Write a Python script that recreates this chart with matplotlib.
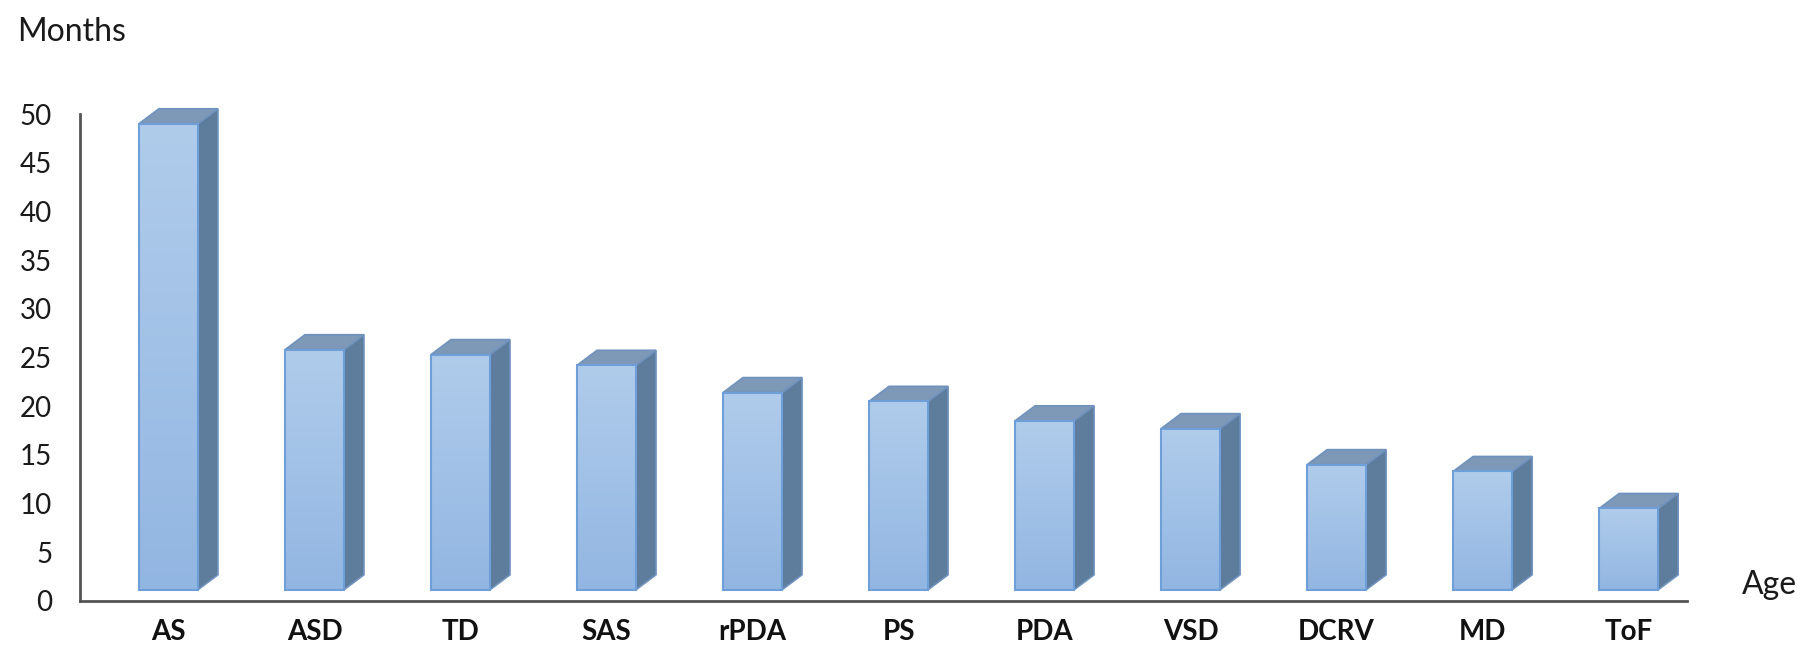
import numpy as np
import matplotlib.pyplot as plt
from matplotlib.patches import Polygon

# 各病种的月龄
categories = ["AS", "ASD", "TD", "SAS", "rPDA", "PS", "PDA", "VSD", "DCRV", "MD", "ToF"]
months = [49.0, 25.8, 25.3, 24.2, 21.4, 20.5, 18.5, 17.7, 14.0, 13.3, 9.5]
yticks = [0, 5, 10, 15, 20, 25, 30, 35, 40, 45, 50]

plt.rcParams['font.family'] = ['Lato', 'DejaVu Sans']

fig = plt.figure(figsize=(18.09, 6.47), dpi=100)
ax = fig.add_axes([0.0442, 0.0711, 0.8884, 0.7527])

w = 0.404      # 正面宽度
base = 1.15    # 柱底离开坐标轴的高度
dx, dy = 0.137, 1.54   # 立体厚度

grad = np.linspace(0, 1, 256).reshape(-1, 1)
front_cmap = plt.matplotlib.colors.LinearSegmentedColormap.from_list(
    "front", ["#92b6e2", "#b0cceb"])

for i, v in enumerate(months):
    x0, x1 = i - w / 2, i + w / 2
    # 侧面
    side = Polygon([(x1, base), (x1 + dx, base + dy), (x1 + dx, v + dy), (x1, v)],
                   closed=True, facecolor="#5e7c9c", edgecolor="#6f93bd",
                   lw=1.2, clip_on=False, zorder=2)
    ax.add_patch(side)
    # 顶面
    top = Polygon([(x0, v), (x0 + dx, v + dy), (x1 + dx, v + dy), (x1, v)],
                  closed=True, facecolor="#7e98b7", edgecolor="#6f93bd",
                  lw=1.2, clip_on=False, zorder=2)
    ax.add_patch(top)
    # 正面（渐变）
    bars = ax.bar(i, v - base, width=w, bottom=base, facecolor="none",
                  edgecolor="#6f9fd8", lw=1.5, zorder=4, clip_on=False)
    im = ax.imshow(grad, cmap=front_cmap, aspect="auto", origin="lower",
                   extent=(x0, x1, base, v), zorder=3, clip_on=False)
    im.set_clip_path(bars.patches[0])

ax.set_xlim(-0.606, 10.40)
ax.set_ylim(0, 50)

for s in ["top", "right"]:
    ax.spines[s].set_visible(False)
for s in ["left", "bottom"]:
    ax.spines[s].set_color("#555555")
    ax.spines[s].set_linewidth(2)

ax.set_xticks(range(len(categories)))
ax.set_xticklabels(categories, fontsize=20, fontweight="bold")
ax.set_yticks(yticks)
ax.set_yticklabels([str(t) for t in yticks], fontsize=20)
ax.tick_params(axis="x", length=0, pad=13, colors="#111111")
ax.tick_params(axis="y", length=0, pad=20, colors="#1a1a1a")

fig.text(0.0094, 0.951, "Months", fontsize=23, color="#1a1a1a", va="center")
fig.text(0.963, 0.096, "Age", fontsize=23, color="#1a1a1a", va="center")

fig.savefig("out.png", dpi=100, facecolor="white")
